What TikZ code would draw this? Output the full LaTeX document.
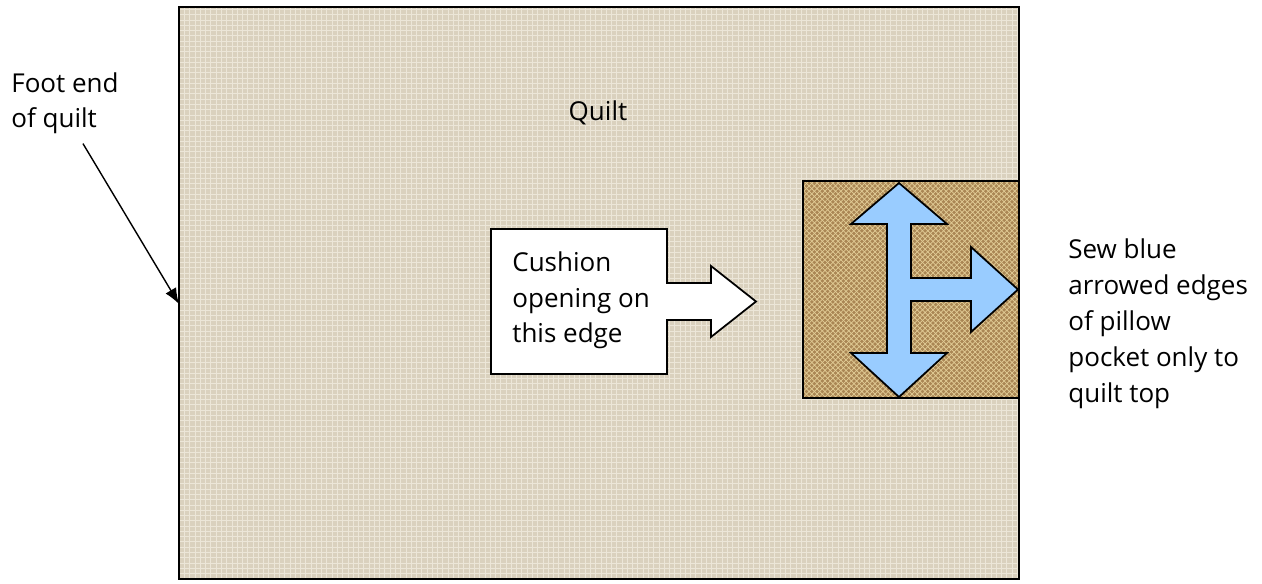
\documentclass[tikz,border=0pt]{standalone}
\usepackage{fontspec}
\setmainfont{Open Sans}
\usetikzlibrary{calc,patterns,arrows.meta}
\definecolor{quiltbeige}{RGB}{218,209,190}
\definecolor{quiltthread}{RGB}{236,230,216}
\definecolor{pocketbrown}{RGB}{170,134,84}
\definecolor{pocketthread}{RGB}{226,204,150}
\definecolor{seamblue}{RGB}{153,204,255}
\tikzset{
  note/.style={font=\fontsize{14.8}{20.4}\selectfont, align=left, anchor=base west, inner sep=0pt},
  outline/.style={draw=black, line width=1pt, line join=miter}
}
\begin{document}
\begin{tikzpicture}[x=0.02cm, y=-0.02cm]
    \useasboundingbox[fill=white] (0,0) rectangle (1262,584);
    % Quilt
    \fill[quiltbeige] (179,7) rectangle (1019,579);
    \fill[pattern=grid, pattern color=quiltthread] (179,7) rectangle (1019,579);
    \draw[outline] (179,7) rectangle (1019,579);
    \node[font=\fontsize{14.8}{20.4}\selectfont, inner sep=0pt] (quilt) at (598,113) {Quilt};

    % Pillow pocket (burlap)
    \fill[pocketbrown] (803,181) rectangle (1019,398);
    \fill[pattern=crosshatch, pattern color=pocketthread] (803,181) rectangle (1019,398);
    \draw[outline] (803,181) rectangle (1019,398);

    % Blue arrowed edges to sew
    \filldraw[seamblue, outline] (899,183) -- (947,224) -- (911,224) -- (911,278) -- (971,278)
        -- (971,247) -- (1018,289.5) -- (971,332) -- (971,301) -- (911,301) -- (911,353)
        -- (947,353) -- (899,397) -- (851,353) -- (887,353) -- (887,224) -- (851,224) -- cycle;

    % Cushion opening callout
    \filldraw[fill=white, outline] (491,229) -- (667,229) -- (667,283) -- (711,283) -- (711,266)
        -- (756,301.5) -- (711,337) -- (711,320) -- (667,320) -- (667,374) -- (491,374) -- cycle;
    \node[note] (cushion) at (512,343) {Cushion\\opening on\\this edge};

    % Side notes (base anchor sits on the last line)
    \node[note] (foot) at (11,128) {Foot end\\of quilt};
    \node[note] (sew) at (1068,402) {Sew blue\\arrowed edges\\of pillow\\pocket only to\\quilt top};
    \coordinate (footedge) at (179,304);
    \draw[-{Latex[length=9pt,width=7pt]}, line width=0.8pt] ($(foot.south)+(18,9)$) -- (footedge);
\end{tikzpicture}
\end{document}
